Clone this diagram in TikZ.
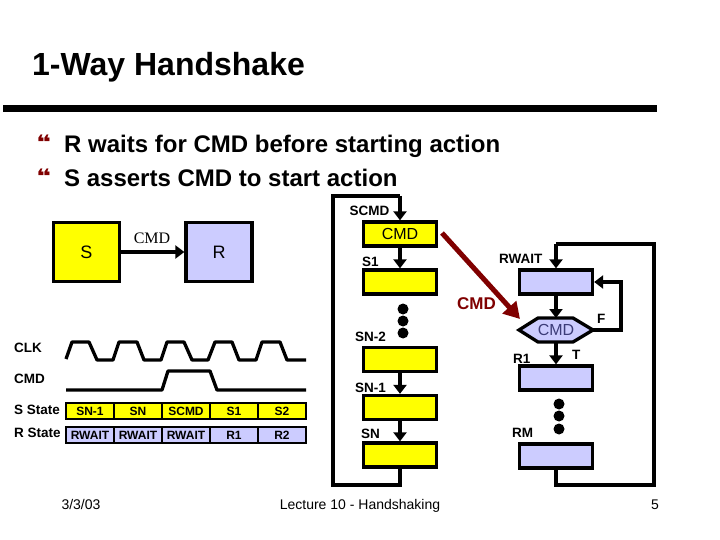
\documentclass[tikz,border=0pt]{standalone}
\usepackage{graphicx}
\usepackage{fontspec}
\setmainfont{Liberation Sans}
\newfontfamily\timesf{Liberation Serif}
\newfontfamily\quotef{DejaVu Sans}
\usetikzlibrary{arrows.meta}
\definecolor{yel}{RGB}{255,255,0}
\definecolor{lav}{RGB}{204,204,255}
\definecolor{dred}{RGB}{128,0,0}
\definecolor{hext}{RGB}{60,60,120}
\tikzset{
 x=1pt,y=-1pt,
 box/.style={draw=black,line width=3.3pt,minimum width=#1,minimum height=24pt,inner sep=0pt,anchor=center},
 ybox/.style={box=73pt,fill=yel},
 lbox/.style={box=73pt,fill=lav},
 bigbox/.style={draw=black,line width=3.3pt,minimum width=66pt,minimum height=59pt,inner sep=0pt,font=\fontsize{18}{18}\selectfont},
 wire/.style={line width=3.3pt,black},
 arr/.style={wire,-{Triangle[length=9pt,width=13pt]}},
 lab/.style={font=\fontsize{13.5}{13.5}\selectfont\bfseries,inner sep=0pt,anchor=base west},
 clab/.style={font=\fontsize{13.5}{13.5}\selectfont\bfseries,inner sep=0pt,anchor=base west},
 cell/.style={draw=black,line width=2pt,minimum width=48pt,minimum height=16pt,inner sep=0pt,font=\fontsize{12}{12}\selectfont\bfseries},
 wave/.style={line width=3.3pt,black,line join=round},
 dotm/.style={circle,fill=black,minimum size=11pt,inner sep=0pt},
 foot/.style={font=\fontsize{14}{14}\selectfont,inner sep=0pt,anchor=base},
 bul/.style={font=\quotef\fontsize{20}{20}\selectfont,text=dred,inner sep=0pt,anchor=base west},
 bt/.style={font=\fontsize{24}{24}\selectfont\bfseries,inner sep=0pt,anchor=base west}
}
\begin{document}
\begin{tikzpicture}
\useasboundingbox (0,0) rectangle (720,540);
\fill[white] (0,0) rectangle (720,540);
\node[font=\fontsize{32}{32}\selectfont\bfseries,inner sep=0pt,anchor=base west] (title) at (32,76) {1-Way Handshake};
\coordinate (ruleL) at (3,108.5); \coordinate (ruleR) at (657,108.5);
\draw[line width=7pt] (ruleL) -- (ruleR);
\node[bul] (b1) at (36,149.5) {\scalebox{1.4}[1]{❝}}; \node[bt] (t1) at (64,153) {R waits for CMD before starting action};
\node[bul] (b2) at (36,184) {\scalebox{1.4}[1]{❝}}; \node[bt] (t2) at (64,187) {S asserts CMD to start action};
% S -> R
\node[bigbox,fill=yel] (S) at (86.5,252) {S};
\node[bigbox,fill=lav] (R) at (219,252) {R};
\draw[arr] (S) -- (R);
\node[font=\timesf\fontsize{16}{16}\selectfont,inner sep=0pt] (cmdl) at (152,238) {CMD};
% waveforms
\node[lab] (lclk) at (14,352) {CLK};
\node[lab] (lcmd) at (14,383) {CMD};
\node[lab] (lss) at (14,414) {S State};
\node[lab] (lrs) at (14,437) {R State};
\draw[wave] (66,359)--(72,342)--(89,342)--(97,360)--(113,360)--(119,342)--(137,342)--(144,360)--(161,360)--(167,342)--(184,342)--(192,360)--(208,360)--(215,342)--(232,342)--(239,360)--(256,360)--(262,342)--(280,342)--(287,360)--(306,360);
\draw[wave] (66,390)--(162,390)--(168,371)--(210,371)--(217,390)--(306,390);
% state rows
\foreach \nm/\x/\t in {a/90/SN-1,b/138/SN,c/186/SCMD,d/234/S1,e/282/S2}
 \node[cell,fill=yel] (s\nm) at (\x,411) {\t};
\foreach \nm/\x/\t in {a/90/RWAIT,b/138/RWAIT,c/186/RWAIT,d/234/R1,e/282/R2}
 \node[cell,fill=lav] (r\nm) at (\x,435) {\t};
% S chain
\node[ybox,font=\fontsize{16}{16}\selectfont] (scmd) at (400,234) {CMD};
\node[ybox] (s1) at (400,282) {};
\node[ybox] (sn2) at (400,359.5) {};
\node[ybox] (sn1) at (400,407.5) {};
\node[ybox] (sn) at (400,455) {};
\coordinate (lb) at (400,485); \coordinate (ll) at (333,485); \coordinate (lt) at (333,196); \coordinate (lr) at (400,196);
\draw[wire,line join=miter] (sn.south) -- (lb) -- (ll) -- (lt) -- (lr);
\draw[arr] (lr) -- (scmd.north);
\draw[arr] (scmd) -- (s1);
\draw[arr] (sn2) -- (sn1);
\draw[arr] (sn1) -- (sn);
\node[dotm] (d1) at (403,309) {}; \node[dotm] (d2) at (403,321) {}; \node[dotm] (d3) at (403,333) {};
\node[clab] (lscmd) at (349.5,215) {SCMD};
\node[clab] (ls1) at (362,266) {S1};
\node[clab] (lsn2) at (355,341) {SN-2};
\node[clab] (lsn1) at (355,392) {SN-1};
\node[clab] (lsn) at (361,438) {SN};
% R chain
\node[lbox] (rw) at (556,282) {};
\coordinate (hw) at (519,330); \coordinate (hnw) at (538,318); \coordinate (hne) at (573,318);
\coordinate (he) at (593,330); \coordinate (hse) at (573,342); \coordinate (hsw) at (538,342);
\coordinate (hn) at (556,318); \coordinate (hs) at (556,342);
\draw[line width=3.3pt,fill=lav,line join=miter] (hw) -- (hnw) -- (hne) -- (he) -- (hse) -- (hsw) -- cycle;
\node[font=\fontsize{16}{16}\selectfont,text=hext,inner sep=0pt] (cmdn) at (556,330) {CMD};
\node[lbox] (r1) at (556,378) {};
\node[lbox] (rm) at (556,456) {};
\node[dotm] (e1) at (559,404) {}; \node[dotm] (e2) at (559,416) {}; \node[dotm] (e3) at (559,429) {};
\coordinate (rb) at (556,485); \coordinate (rr) at (654,485); \coordinate (rt) at (654,244); \coordinate (rl) at (556,244);
\draw[wire,line join=miter] (rm.south) -- (rb) -- (rr) -- (rt) -- (rl);
\draw[arr] (rl) -- (rw.north);
\draw[arr] (rw.south) -- (hn);
\draw[arr] (hs) -- (r1.north);
\coordinate (fb) at (621,330); \coordinate (ft) at (621,282);
\draw[wire,line join=miter,-{Triangle[length=9pt,width=13pt]}] (he) -- (fb) -- (ft) -- (rw.east);
\node[clab] (lrw) at (499,263) {RWAIT};
\node[clab] (lr1) at (513,363) {R1};
\node[clab] (lrm) at (512,437) {RM};
\node[clab] (lt) at (572,359) {T};
\node[clab] (lf) at (597,323) {F};
% red arrow
\coordinate (ra) at (442,233); \coordinate (rz) at (520,319);
\draw[dred,line width=5pt,-{Triangle[length=16pt,width=18pt]}] (ra) -- (rz);
\node[font=\fontsize{17}{17}\selectfont\bfseries,text=dred,inner sep=0pt,anchor=base west] (lcr) at (457,309) {CMD};
% footer
\node[foot] (f1) at (81,509) {3/3/03};
\node[foot] (f2) at (360,509) {Lecture 10 - Handshaking};
\node[foot] (f3) at (655,509) {5};
\end{tikzpicture}
\end{document}
